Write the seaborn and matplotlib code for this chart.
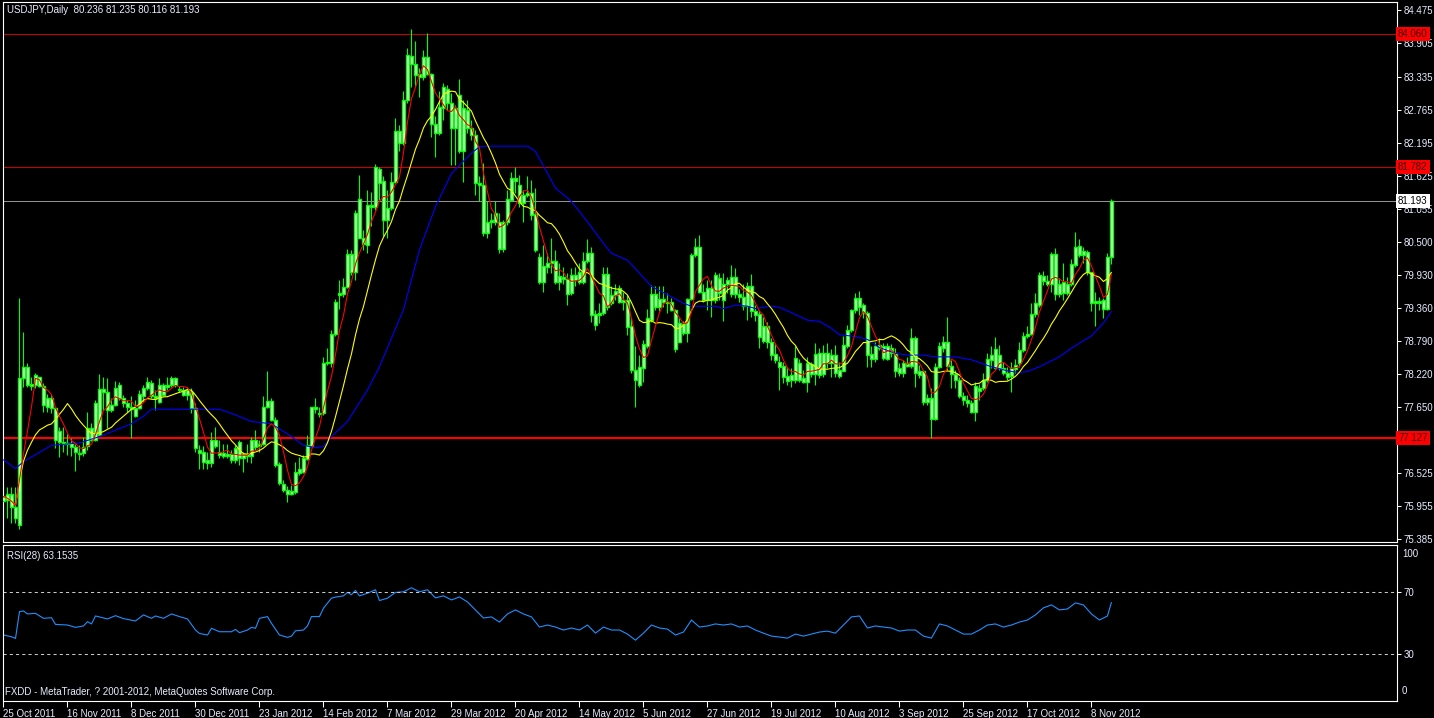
import matplotlib
matplotlib.use("Agg")
import matplotlib.pyplot as plt
import numpy as np
import pandas as pd
import seaborn as sns

# daily USDJPY bars, 25 Oct 2011 .. 15 Nov 2012
opens = [
    76.05, 76.16, 76.16, 75.94, 75.63, 78.15, 78.34, 78.05, 78.04, 78.17,
    78.02, 77.66, 77.82, 77.64, 77.05, 77.06, 77.02, 77.04, 76.97, 76.87,
    76.86, 76.98, 77.30, 77.10, 77.18, 77.97, 77.91, 77.61, 77.69, 78.03,
    77.81, 77.73, 77.66, 77.64, 77.64, 77.85, 77.98, 78.07, 77.85, 77.75,
    78.04, 78.01, 78.04, 78.15, 77.97, 77.95, 77.87, 77.92, 77.64, 76.92,
    76.89, 76.74, 76.69, 77.10, 76.89, 76.82, 76.85, 76.85, 76.75, 77.05,
    76.78, 76.85, 76.82, 77.10, 76.98, 77.03, 77.65, 77.77, 77.44, 76.68,
    76.34, 76.24, 76.17, 76.19, 76.52, 76.55, 76.76, 76.99, 77.65, 77.56,
    77.55, 78.41, 78.41, 78.92, 79.58, 79.60, 79.72, 80.29, 79.97, 81.23,
    80.57, 80.44, 81.13, 81.10, 81.74, 81.54, 80.87, 81.07, 81.53, 82.40,
    82.20, 82.93, 83.69, 83.55, 83.38, 83.32, 83.67, 83.38, 82.52, 82.37,
    82.79, 83.13, 82.88, 82.45, 83.02, 82.05, 82.76, 82.45, 82.33, 81.50,
    81.48, 80.65, 80.84, 80.84, 80.83, 80.37, 80.83, 81.22, 81.59, 81.48,
    81.16, 81.30, 81.33, 80.97, 80.23, 79.81, 80.07, 80.13, 80.16, 79.81,
    79.90, 79.85, 79.61, 79.92, 79.81, 79.81, 80.17, 80.30, 79.26, 79.24,
    79.27, 79.94, 79.44, 79.58, 79.70, 79.47, 79.49, 79.05, 78.29, 78.04,
    78.32, 78.71, 79.15, 79.60, 79.37, 79.51, 79.47, 79.47, 79.33, 78.78,
    79.09, 78.93, 79.51, 80.27, 80.40, 79.64, 79.49, 79.70, 79.50, 79.87,
    79.50, 79.78, 79.89, 79.60, 79.60, 79.55, 79.40, 79.74, 79.30, 79.26,
    78.80, 79.05, 78.78, 78.57, 78.44, 78.36, 78.19, 78.12, 78.13, 78.42,
    78.15, 78.09, 78.40, 78.23, 78.58, 78.23, 78.58, 78.42, 78.55, 78.29,
    78.28, 78.70, 78.98, 79.33, 79.53, 79.41, 79.27, 78.57, 78.48, 78.68,
    78.70, 78.48, 78.68, 78.59, 78.24, 78.24, 78.41, 78.36, 78.84, 78.27,
    78.27, 77.75, 77.82, 77.45, 78.35, 78.68, 78.78, 78.36, 78.23, 78.13,
    77.84, 77.78, 77.73, 77.58, 77.98, 77.98, 78.13, 78.47, 78.65, 78.32,
    78.32, 78.25, 78.19, 78.31, 78.41, 78.64, 78.87, 78.92, 79.26, 79.41,
    79.91, 79.83, 79.78, 80.29, 79.60, 79.80, 79.61, 79.77, 80.10, 80.43,
    80.27, 80.33, 79.97, 79.45, 79.48, 79.49, 79.35, 80.236,
]
highs = [
    76.30, 76.29, 76.29, 76.29, 79.53, 78.95, 78.41, 78.17, 78.24, 78.18,
    78.07, 77.88, 77.89, 77.66, 77.32, 77.32, 77.20, 77.13, 77.03, 77.01,
    77.15, 77.58, 77.38, 77.78, 78.23, 78.17, 78.15, 77.81, 78.11, 78.09,
    77.87, 77.78, 77.84, 77.78, 77.95, 78.04, 78.17, 78.12, 77.95, 78.15,
    78.07, 78.18, 78.19, 78.18, 78.02, 78.01, 77.98, 77.98, 77.72, 77.01,
    76.98, 76.89, 77.23, 77.32, 77.09, 77.03, 77.03, 76.92, 77.01, 77.09,
    76.89, 77.03, 77.15, 77.26, 77.09, 77.84, 78.28, 77.81, 77.49, 76.72,
    76.40, 76.30, 76.32, 76.72, 76.80, 76.83, 77.17, 77.66, 77.81, 77.66,
    78.52, 78.67, 78.98, 79.52, 79.84, 79.87, 80.38, 80.36, 81.04, 81.64,
    80.70, 81.39, 81.36, 81.84, 81.79, 81.62, 81.39, 81.70, 82.62, 82.50,
    83.08, 83.82, 84.15, 83.94, 83.48, 83.80, 84.08, 83.39, 82.65, 83.08,
    83.22, 83.19, 83.05, 82.85, 83.29, 82.93, 82.93, 82.59, 82.42, 81.62,
    81.85, 81.19, 80.99, 81.19, 80.99, 80.88, 81.39, 81.70, 81.79, 81.65,
    81.39, 81.62, 81.56, 81.42, 80.30, 80.44, 80.30, 80.56, 80.36, 80.13,
    80.07, 79.96, 80.04, 80.07, 80.13, 80.33, 80.54, 80.41, 79.33, 79.44,
    80.07, 80.07, 79.73, 79.78, 79.76, 79.64, 79.58, 79.18, 78.70, 78.55,
    78.81, 79.34, 79.76, 79.74, 79.73, 79.73, 79.61, 79.53, 79.35, 79.18,
    79.13, 79.53, 80.30, 80.56, 80.61, 79.78, 79.84, 79.84, 79.98, 79.96,
    79.96, 79.90, 80.10, 80.04, 79.68, 79.78, 79.81, 79.94, 79.41, 79.33,
    79.21, 79.12, 78.84, 78.75, 78.54, 78.44, 78.35, 78.32, 78.70, 78.48,
    78.30, 78.52, 78.44, 78.75, 78.67, 78.72, 78.75, 78.65, 78.72, 78.44,
    78.87, 79.07, 79.35, 79.61, 79.66, 79.45, 79.30, 78.70, 78.78, 78.84,
    78.75, 78.75, 78.74, 78.67, 78.42, 78.47, 78.52, 79.01, 78.87, 78.38,
    78.30, 77.89, 77.98, 78.42, 78.78, 78.87, 79.21, 78.47, 78.30, 78.18,
    77.92, 77.87, 77.78, 78.09, 78.06, 78.24, 78.59, 78.71, 78.86, 78.72,
    78.44, 78.35, 78.44, 78.48, 78.78, 78.95, 79.05, 79.44, 79.62, 79.97,
    80.00, 79.93, 80.33, 80.39, 79.87, 80.13, 79.90, 80.20, 80.67, 80.54,
    80.41, 80.36, 79.98, 79.64, 79.55, 79.53, 80.30, 81.235,
]
lows = [
    75.72, 75.75, 75.66, 75.66, 75.56, 78.01, 78.00, 77.95, 77.98, 78.01,
    77.58, 77.58, 77.55, 76.95, 76.80, 76.89, 76.83, 76.81, 76.56, 76.75,
    76.82, 76.92, 77.08, 77.08, 77.16, 77.61, 77.29, 77.58, 77.67, 77.78,
    77.65, 77.58, 77.12, 77.49, 77.62, 77.75, 77.95, 77.81, 77.61, 77.72,
    77.84, 77.95, 78.01, 78.01, 77.92, 77.84, 77.78, 77.55, 76.89, 76.60,
    76.60, 76.60, 76.63, 76.95, 76.78, 76.78, 76.78, 76.69, 76.69, 76.66,
    76.55, 76.72, 76.69, 76.92, 76.89, 77.00, 77.64, 77.41, 76.63, 76.32,
    76.20, 76.03, 76.15, 76.17, 76.49, 76.53, 76.75, 76.98, 77.55, 77.49,
    77.52, 78.38, 78.35, 78.87, 79.35, 79.55, 79.70, 79.93, 79.84, 80.56,
    80.36, 80.30, 80.76, 81.04, 81.22, 80.59, 80.56, 81.04, 81.50, 82.05,
    82.16, 82.88, 83.16, 83.16, 82.99, 83.28, 83.36, 82.30, 81.96, 82.33,
    82.59, 82.76, 81.82, 81.82, 82.02, 81.53, 82.36, 82.25, 81.30, 81.19,
    80.59, 80.56, 80.73, 80.79, 80.30, 80.33, 80.79, 81.19, 81.33, 81.10,
    80.83, 81.27, 80.87, 80.33, 79.78, 79.64, 79.96, 79.96, 79.78, 79.67,
    79.78, 79.41, 79.58, 79.73, 79.78, 79.78, 80.13, 79.12, 78.98, 79.10,
    79.24, 79.33, 79.41, 79.50, 79.44, 79.33, 78.90, 78.24, 77.65, 78.01,
    78.08, 78.67, 79.12, 79.33, 79.30, 79.38, 79.27, 79.31, 78.61, 78.77,
    78.90, 78.78, 79.49, 80.24, 79.61, 79.47, 79.33, 79.21, 79.44, 79.50,
    79.13, 79.61, 79.55, 79.53, 79.47, 79.33, 79.15, 79.21, 79.13, 78.67,
    78.75, 78.67, 78.47, 78.42, 77.95, 78.07, 78.04, 78.01, 78.07, 78.09,
    78.07, 77.91, 78.18, 78.04, 78.15, 78.18, 78.32, 78.18, 78.18, 78.15,
    78.27, 78.67, 78.95, 79.27, 79.24, 79.18, 78.35, 78.35, 78.44, 78.64,
    78.47, 78.47, 78.51, 78.18, 78.19, 78.18, 78.35, 78.32, 78.01, 78.15,
    77.69, 77.69, 77.127, 77.44, 78.32, 78.61, 78.30, 77.98, 77.98, 77.81,
    77.69, 77.66, 77.55, 77.42, 77.78, 77.95, 78.09, 78.32, 78.31, 78.30,
    78.21, 78.13, 77.92, 78.25, 78.35, 78.61, 78.84, 78.90, 79.21, 79.37,
    79.76, 79.73, 79.64, 79.49, 79.55, 79.50, 79.58, 79.73, 80.07, 80.24,
    80.13, 79.93, 79.30, 79.05, 79.33, 79.18, 79.33, 80.116,
]
closes = [
    76.12, 76.06, 75.94, 75.75, 78.15, 78.35, 78.04, 78.02, 78.20, 78.02,
    77.69, 77.81, 77.64, 77.10, 77.25, 77.02, 77.04, 76.97, 76.89, 76.85,
    76.97, 77.29, 77.09, 77.72, 77.97, 77.91, 77.61, 77.70, 77.98, 77.81,
    77.72, 77.65, 77.63, 77.51, 77.88, 77.99, 78.08, 77.84, 77.81, 78.04,
    77.87, 78.04, 78.15, 78.04, 77.95, 77.87, 77.95, 77.64, 76.95, 76.86,
    76.72, 76.69, 77.10, 76.98, 76.84, 76.86, 76.82, 76.75, 76.95, 76.78,
    76.85, 76.82, 77.10, 76.97, 77.02, 77.65, 77.77, 77.44, 76.66, 76.35,
    76.24, 76.17, 76.22, 76.55, 76.59, 76.78, 77.01, 77.65, 77.62, 77.54,
    78.42, 78.43, 78.92, 79.47, 79.61, 79.72, 80.29, 79.97, 80.99, 80.57,
    80.46, 81.13, 81.09, 81.78, 81.51, 80.87, 81.07, 81.53, 82.40, 82.20,
    82.93, 83.71, 83.55, 83.36, 83.32, 83.67, 83.38, 82.52, 82.37, 82.81,
    83.15, 82.89, 82.45, 82.79, 82.05, 82.79, 82.45, 82.33, 81.50, 81.47,
    80.65, 80.84, 80.87, 81.00, 80.37, 80.83, 81.24, 81.59, 81.55, 81.16,
    81.30, 81.34, 80.96, 80.36, 79.81, 80.08, 80.13, 80.16, 79.81, 79.91,
    79.85, 79.60, 79.92, 79.84, 79.97, 80.17, 80.31, 79.24, 79.07, 79.28,
    79.94, 79.37, 79.58, 79.66, 79.47, 79.49, 79.04, 78.29, 78.13, 78.35,
    78.74, 79.18, 79.60, 79.37, 79.51, 79.47, 79.44, 79.33, 78.65, 79.10,
    78.93, 79.51, 80.27, 80.40, 79.64, 79.49, 79.70, 79.50, 79.93, 79.61,
    79.77, 79.84, 79.60, 79.89, 79.55, 79.40, 79.73, 79.30, 79.24, 78.86,
    79.05, 78.78, 78.55, 78.46, 78.35, 78.18, 78.11, 78.21, 78.50, 78.13,
    78.09, 78.42, 78.23, 78.57, 78.21, 78.58, 78.41, 78.55, 78.25, 78.19,
    78.72, 78.98, 79.33, 79.53, 79.38, 79.27, 78.55, 78.48, 78.70, 78.72,
    78.50, 78.70, 78.59, 78.27, 78.32, 78.41, 78.36, 78.84, 78.25, 78.21,
    77.75, 77.82, 77.45, 78.35, 78.70, 78.78, 78.36, 78.23, 78.12, 77.84,
    77.78, 77.72, 77.58, 78.02, 77.94, 78.13, 78.48, 78.55, 78.32, 78.55,
    78.24, 78.17, 78.32, 78.38, 78.64, 78.87, 78.92, 79.26, 79.45, 79.93,
    79.83, 79.78, 80.29, 79.60, 79.78, 79.61, 79.78, 80.12, 80.40, 80.27,
    80.34, 79.97, 79.45, 79.48, 79.45, 79.35, 80.23, 81.193,
]

# slow blue average, read at its turning points (bar index, price)
blue_bar = [0, 3, 5, 12, 19, 24, 32, 35, 37, 47, 54, 57, 62, 67, 72, 75, 78, 80,
            82, 86, 91, 94, 100, 104, 108, 112, 117, 119, 121, 131, 133, 138, 142,
            146, 150, 152, 156, 159, 162, 167, 170, 172, 178, 180, 183, 186, 188,
            192, 194, 197, 201, 204, 207, 209, 213, 216, 219, 223, 226, 230, 233,
            238, 242, 247, 251, 254, 256, 259, 264, 267, 272, 275, 277]
blue_val = [76.75, 76.60, 76.72, 77.00, 77.04, 77.15, 77.37, 77.50, 77.62, 77.62,
            77.62, 77.55, 77.41, 77.37, 77.15, 77.00, 76.96, 76.98, 77.15, 77.41,
            77.95, 78.35, 79.33, 80.36, 81.10, 81.67, 82.02, 82.13, 82.14, 82.14,
            82.05, 81.42, 81.19, 80.84, 80.47, 80.30, 80.18, 79.96, 79.73, 79.55,
            79.44, 79.39, 79.39, 79.35, 79.41, 79.39, 79.35, 79.39, 79.37, 79.28,
            79.15, 79.13, 79.01, 78.90, 78.87, 78.82, 78.68, 78.58, 78.55, 78.55,
            78.52, 78.52, 78.47, 78.35, 78.28, 78.25, 78.27, 78.35, 78.52, 78.67,
            78.88, 79.10, 79.30]

# RSI(28)
rsi_bar = [0, 2, 3, 4, 5, 6, 8, 10, 12, 13, 16, 18, 20, 21, 22, 23, 26, 28, 30, 33,
           35, 37, 38, 40, 42, 44, 46, 48, 49, 51, 52, 54, 57, 58, 59, 61, 62, 63,
           64, 66, 67, 69, 71, 72, 73, 75, 76, 77, 79, 80, 82, 83, 85, 86, 87, 88,
           89, 91, 93, 94, 96, 98, 100, 102, 104, 106, 108, 110, 112, 114, 116,
           118, 120, 122, 124, 126, 128, 130, 132, 134, 136, 138, 140, 142, 144,
           146, 148, 150, 152, 154, 156, 158, 160, 162, 164, 166, 168, 170, 172,
           174, 176, 178, 180, 182, 184, 186, 188, 190, 192, 194, 196, 198, 200,
           202, 204, 206, 208, 210, 212, 214, 216, 218, 220, 222, 224, 226, 228,
           230, 232, 234, 236, 238, 240, 242, 244, 246, 248, 250, 252, 254, 256,
           258, 260, 262, 264, 266, 268, 270, 272, 274, 276, 277]
rsi_val = [42.3, 41.2, 40.1, 57.3, 57.7, 55.8, 56.2, 53.0, 53.4, 49.1, 48.7, 47.2,
           48.1, 50.9, 49.4, 54.5, 52.6, 54.7, 52.8, 51.3, 55.2, 53.0, 54.5, 53.0,
           55.8, 54.1, 52.6, 45.5, 43.3, 42.3, 46.6, 44.4, 44.4, 45.9, 43.8, 45.5,
           47.2, 46.6, 53.0, 54.1, 49.8, 42.3, 40.8, 41.6, 45.0, 45.5, 48.1, 54.1,
           54.1, 59.5, 65.9, 66.6, 67.4, 69.6, 68.1, 70.9, 67.4, 69.1, 71.3, 64.4,
           65.9, 69.6, 70.0, 72.6, 70.0, 71.3, 66.1, 67.4, 64.8, 66.7, 63.5, 58.4,
           53.2, 53.9, 50.6, 55.8, 58.4, 55.8, 53.9, 47.4, 48.7, 47.4, 45.5, 46.8,
           45.5, 48.7, 43.5, 47.4, 45.5, 45.5, 42.9, 39.0, 43.5, 48.7, 46.8, 46.1,
           42.3, 44.2, 51.9, 47.4, 48.1, 49.4, 48.7, 49.4, 47.4, 48.1, 45.5, 43.5,
           41.6, 41.0, 40.3, 42.9, 41.6, 42.9, 44.2, 44.8, 43.5, 48.7, 53.9, 54.5,
           46.8, 48.1, 47.4, 46.8, 44.8, 45.5, 45.5, 41.6, 40.3, 49.4, 48.1, 45.5,
           42.9, 42.9, 45.5, 48.7, 49.4, 47.4, 48.7, 50.6, 51.9, 55.2, 59.7, 61.6,
           58.4, 59.0, 62.9, 61.6, 55.8, 51.9, 54.5, 63.15]

date_labels = ["25 Oct 2011", "16 Nov 2011", "8 Dec 2011", "30 Dec 2011", "23 Jan 2012",
               "14 Feb 2012", "7 Mar 2012", "29 Mar 2012", "20 Apr 2012", "14 May 2012",
               "5 Jun 2012", "27 Jun 2012", "19 Jul 2012", "10 Aug 2012", "3 Sep 2012",
               "25 Sep 2012", "17 Oct 2012", "8 Nov 2012"]
price_ticks = [84.475, 83.905, 83.335, 82.765, 82.195, 81.625, 81.055, 80.500, 79.930,
               79.360, 78.790, 78.220, 77.650, 76.525, 75.955, 75.385]
levels = [84.060, 81.782, 77.127]
bid = 81.193

W, H = 1434, 718
GREEN = "#00ff00"
FG = "#e8ecff"
FS = 7


def fx(px):
    return px / W


def fy(py):
    return 1 - py / H


def main():
    sns.set_theme(style="dark", rc={
        "figure.facecolor": "black",
        "axes.facecolor": "black",
        "savefig.facecolor": "black",
        "axes.edgecolor": "white",
        "axes.linewidth": 0.8,
        "xtick.color": "white",
        "ytick.color": "white",
    })
    plt.rcParams["font.family"] = ["Liberation Sans", "DejaVu Sans"]

    df = pd.DataFrame({"open": opens, "high": highs, "low": lows, "close": closes})
    df["bar"] = np.arange(len(df))
    df["ma_fast"] = df["close"].rolling(5, min_periods=1).mean()
    df["ma_slow"] = df["close"].rolling(13, min_periods=1).mean()
    blue = pd.DataFrame({"bar": blue_bar, "ma": blue_val})
    rsi = pd.DataFrame({"bar": rsi_bar, "rsi": rsi_val})

    fig = plt.figure(figsize=(W / 100, H / 100), dpi=100)
    ax = fig.add_axes([fx(2.5), fy(542), fx(1397 - 2.5), 540 / H])
    ax_rsi = fig.add_axes([fx(2.5), fy(701), fx(1397 - 2.5), 156 / H])
    xlim = (-0.25, 348.4)

    # candles: lime wick, lime-outlined body with a thin white core
    ax.vlines(df["bar"], df["low"], df["high"], color=GREEN, linewidth=0.8, zorder=2)
    body_lo = np.minimum(df["open"], df["close"])
    body_h = np.maximum((df["close"] - df["open"]).abs(), 0.015)
    ax.bar(df["bar"], body_h, bottom=body_lo, width=0.62, facecolor="#f0fff0",
           edgecolor=GREEN, linewidth=1.0, zorder=3)

    sns.lineplot(data=blue, x="bar", y="ma", color="#0000ff", linewidth=0.8, ax=ax, zorder=4)
    sns.lineplot(data=df, x="bar", y="ma_slow", color="#ffff00", linewidth=0.8, ax=ax, zorder=5)
    sns.lineplot(data=df, x="bar", y="ma_fast", color="#ff0000", linewidth=0.8, ax=ax, zorder=6)

    ax.axhline(levels[0], color="#c80000", linewidth=0.75, zorder=1)
    ax.axhline(levels[1], color="#c80000", linewidth=0.75, zorder=1)
    ax.axhline(bid, color="#909090", linewidth=0.75, zorder=1)
    ax.axhline(levels[2], color="#ff0000", linewidth=1.5, zorder=1)

    ax.set_xlim(*xlim)
    ax.set_ylim(75.339, 84.617)
    ax.set_xlabel("")
    ax.set_ylabel("")
    ax.set_xticks([])
    ax.yaxis.tick_right()
    ax.set_yticks(price_ticks, labels=[f"{v:.3f}" for v in price_ticks])
    ax.tick_params(axis="y", right=True, left=False, direction="out", length=3,
                   width=0.75, pad=2, labelsize=FS, labelcolor=FG, color="white")
    ax.grid(False)

    for lv, fc, tc in [(levels[0], "#ff0000", "#400000"), (levels[1], "#ff0000", "#400000"),
                       (levels[2], "#ff0000", "#400000"), (bid, "white", "black")]:
        ax.text(1.0008, lv, f"{lv:.3f}", transform=ax.get_yaxis_transform(),
                ha="left", va="center", fontsize=FS, color=tc, zorder=10,
                bbox=dict(boxstyle="square,pad=0.2", facecolor=fc, edgecolor="none"))

    # RSI panel
    sns.lineplot(data=rsi, x="bar", y="rsi", color="#1e90ff", linewidth=0.8, ax=ax_rsi)
    for lv in (70, 30):
        ax_rsi.axhline(lv, color="#c8c8c8", linewidth=0.75, linestyle=(0, (3, 3)))
    ax_rsi.set_xlim(*xlim)
    ax_rsi.set_ylim(0, 100)
    ax_rsi.set_xlabel("")
    ax_rsi.set_ylabel("")
    ax_rsi.grid(False)
    ax_rsi.yaxis.tick_right()
    ax_rsi.set_yticks([70, 30], labels=["70", "30"])
    ax_rsi.tick_params(axis="y", right=True, left=False, direction="out", length=3,
                       width=0.75, pad=2, labelsize=FS, labelcolor=FG, color="white")
    ax_rsi.text(1.0035, 0.975, "100", transform=ax_rsi.transAxes, ha="left", va="top",
                fontsize=FS, color=FG)
    ax_rsi.text(1.0035, 0.03, "0", transform=ax_rsi.transAxes, ha="left", va="bottom",
                fontsize=FS, color=FG)
    ticks = np.arange(len(date_labels)) * 16
    ax_rsi.set_xticks(ticks, labels=date_labels)
    ax_rsi.tick_params(axis="x", bottom=True, direction="out", length=4, width=0.75,
                       pad=1.5, labelsize=FS, labelcolor=FG, color="white")
    for lab in ax_rsi.get_xticklabels():
        lab.set_horizontalalignment("left")

    for a in (ax, ax_rsi):
        for sp in a.spines.values():
            sp.set_color("white")
            sp.set_linewidth(0.8)

    fig.text(fx(7), fy(10), "USDJPY,Daily  80.236 81.235 80.116 81.193", fontsize=7,
             color=FG, ha="left", va="center")
    fig.text(fx(7), fy(556), "RSI(28) 63.1535", fontsize=7, color=FG, ha="left", va="center")
    fig.text(fx(5), fy(692), "FXDD - MetaTrader, ? 2001-2012, MetaQuotes Software Corp.",
             fontsize=7, color=FG, ha="left", va="center")

    fig.savefig("out.png", dpi=100, facecolor="black")
    plt.close(fig)


if __name__ == "__main__":
    main()
